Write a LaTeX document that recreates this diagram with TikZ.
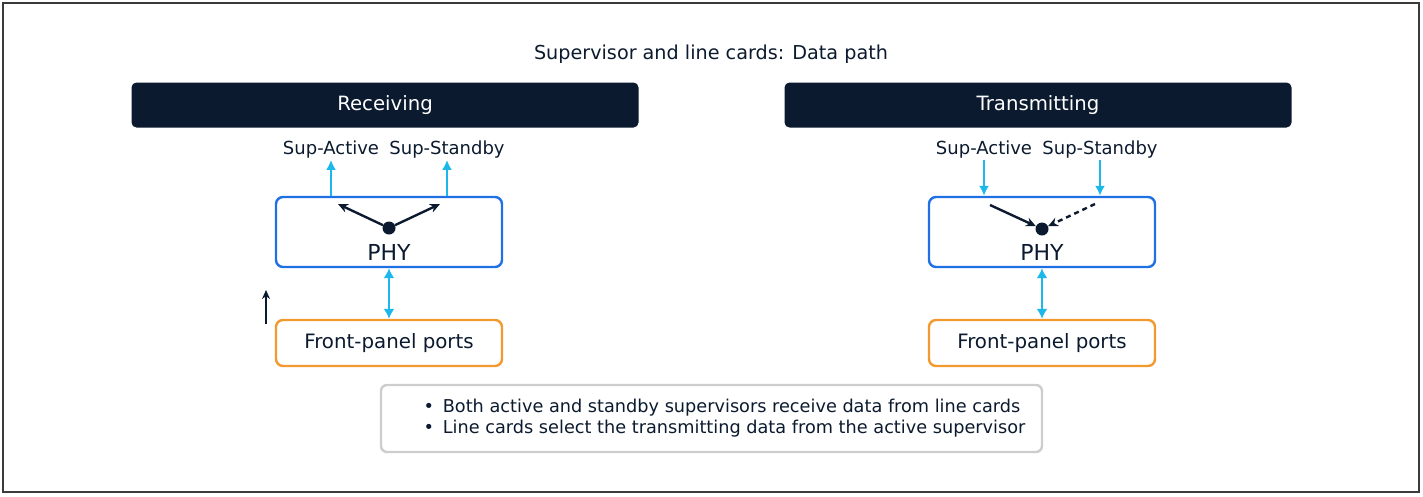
\documentclass[tikz,border=0pt]{standalone}
\usepackage{fontspec}
\setmainfont{DejaVu Sans}
\usetikzlibrary{arrows.meta,positioning}

\definecolor{navy}{HTML}{0B1A2E}
\definecolor{feedcyan}{HTML}{1CB8EC}
\definecolor{phyblue}{HTML}{1F6FE5}
\definecolor{portorange}{HTML}{F29A2E}
\definecolor{notegray}{HTML}{CDCDCD}
\definecolor{framegray}{HTML}{3A3A3A}

\tikzset{
  header/.style={fill=navy, rounded corners=5pt, minimum width=507pt, minimum height=45pt,
    text=white, font=\fontsize{19.7}{22}\selectfont},
  phybox/.style={draw=phyblue, line width=2.4pt, rounded corners=7pt, minimum width=226pt,
    minimum height=70pt},
  portbox/.style={draw=portorange, line width=2.4pt, rounded corners=7pt, minimum width=226pt,
    minimum height=46pt, text=navy, font=\fontsize{19.8}{22}\selectfont},
  suplabel/.style={text=navy, font=\fontsize{18}{20}\selectfont, inner sep=1pt},
  phylabel/.style={text=navy, font=\fontsize{22}{24}\selectfont, inner sep=1pt},
  hub/.style={circle, fill=navy, minimum size=13pt, inner sep=0pt},
  feed/.style={draw=feedcyan, line width=2.4pt, -{Latex[length=10pt,width=10pt]}},
  link/.style={draw=feedcyan, line width=2.4pt, {Latex[length=10pt,width=11pt]}-{Latex[length=10pt,width=11pt]}},
  pick/.style={draw=navy, line width=2.4pt, -{Stealth[length=10pt,width=9pt]}}
}

\begin{document}
\begin{tikzpicture}[x=1pt,y=-1pt]
		%%%%% FRAME %%%%%
		\useasboundingbox (0,0) rectangle (1423,496);
		\draw[line width=2pt, color=framegray] (3,3) rectangle (1419,492);
		
		\node[text=navy, font=\fontsize{19.2}{21}\selectfont] (title) at (711,54) {Supervisor and line cards: Data path};
		
		\node[header] (recv) at (385,105) {Receiving};
		\node[header] (xmit) at (1038,105) {Transmitting};
		
		%%%%% RECEIVING %%%%%
		\node[suplabel] (supAL) at (331,150) {Sup-Active};
		\node[suplabel] (supSL) at (447,150) {Sup-Standby};
		\node[phybox] (phyL) at (389,232) {};
		\node[phylabel] (phyLtxt) at (389,252) {PHY};
		\node[hub] (hubL) at (389,228) {};
		\node[portbox] (portL) at (389,343) {Front-panel ports};
		
		\coordinate (outAL) at (338,204);
		\coordinate (outSL) at (440,204);
		\draw[pick] (hubL) -- (outAL);
		\draw[pick] (hubL) -- (outSL);
		
		\draw[feed] (phyL.north -| supAL) -- (supAL.south);
		\draw[feed] (phyL.north -| supSL) -- (supSL.south);
		\draw[link] (phyL.south) -- (portL.north);
		
		\coordinate (upA) at (266,324);
		\coordinate (upB) at (266,290);
		\draw[draw=navy, line width=2pt, -{Stealth[length=9pt,width=8pt]}] (upA) -- (upB);
		
		%%%%% TRANSMITTING %%%%%
		\node[suplabel] (supAR) at (984,150) {Sup-Active};
		\node[suplabel] (supSR) at (1100,150) {Sup-Standby};
		\node[phybox] (phyR) at (1042,232) {};
		\node[phylabel] (phyRtxt) at (1042,252) {PHY};
		\node[hub] (hubR) at (1042,229) {};
		\node[portbox] (portR) at (1042,343) {Front-panel ports};
		
		\coordinate (inAR) at (990,205);
		\coordinate (inSR) at (1095,204);
		\draw[pick] (inAR) -- (hubR);
		\draw[pick, dash pattern=on 5pt off 4pt] (inSR) -- (hubR);
		
		\draw[feed] (supAR.south) -- (phyR.north -| supAR);
		\draw[feed] (supSR.south) -- (phyR.north -| supSR);
		\draw[link] (phyR.south) -- (portR.north);
		
		%%%%% NOTE %%%%%
		\node[draw=notegray, line width=2.4pt, rounded corners=6pt, minimum width=661pt, minimum height=67pt] (note) at (711.5,418.5) {};
		\node[anchor=west, align=left, text=navy, font=\fontsize{17.7}{21.5}\selectfont] (noteTxt) at (420,418) {%
			\textbullet\enspace Both active and standby supervisors receive data from line cards\\
			\textbullet\enspace Line cards select the transmitting data from the active supervisor};
		
	\end{tikzpicture}
\end{document}
